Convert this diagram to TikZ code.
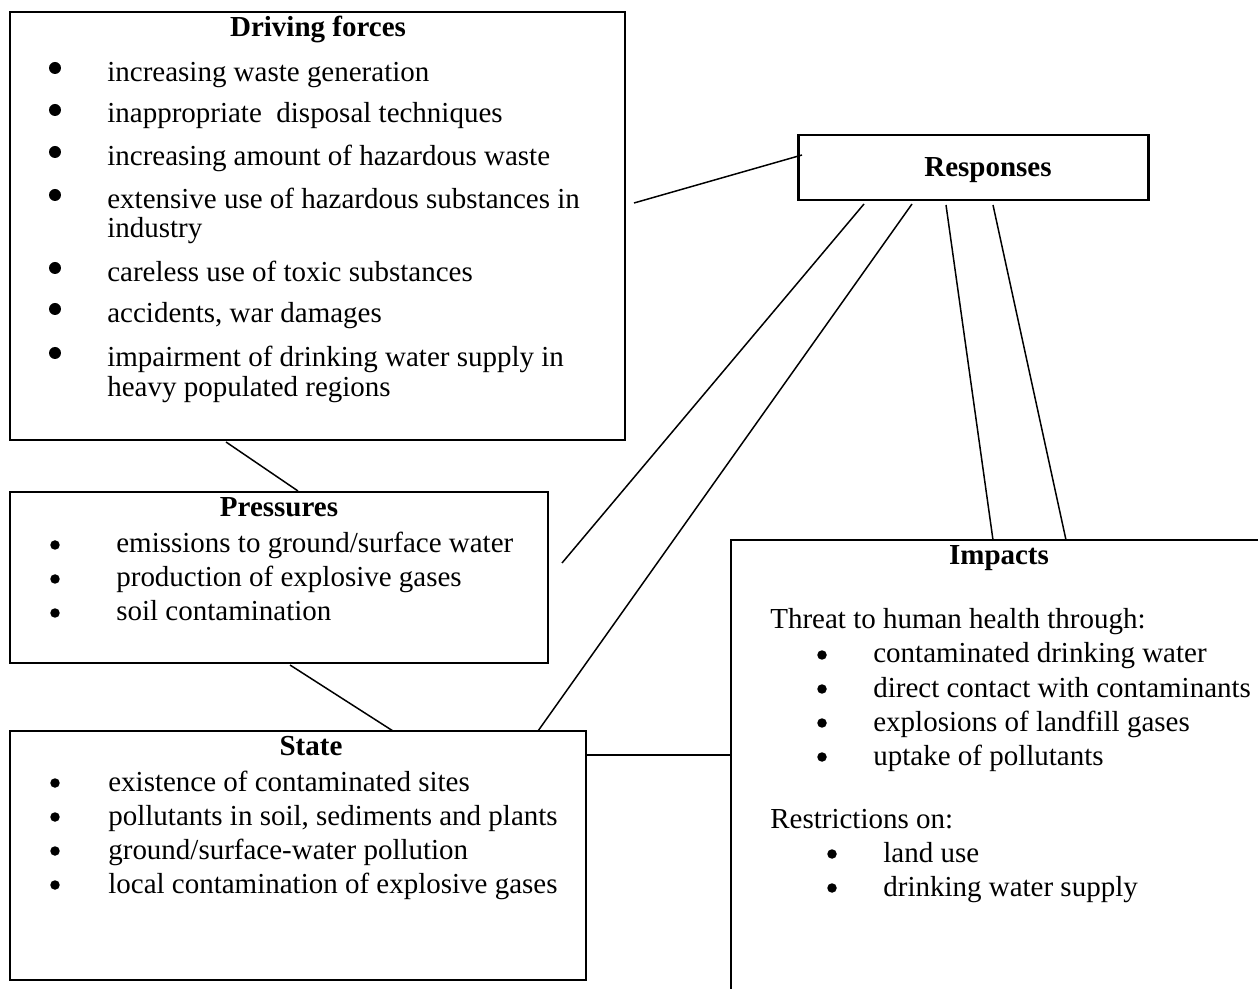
\documentclass[tikz,border=0pt]{standalone}
\usepackage{fontspec}
\setmainfont{Liberation Serif}

\tikzset{
  txt/.style={anchor=base west, inner sep=0pt, font=\fontsize{16.5}{19}\selectfont},
  ttl/.style={anchor=base, inner sep=0pt, font=\fontsize{16.5}{19}\selectfont\bfseries},
  dot/.style={circle, fill=black, inner sep=0pt, minimum size=0.19cm},
  bigdot/.style={circle, fill=black, inner sep=0pt, minimum size=0.24cm},
  link/.style={line width=0.85pt},
}

\begin{document}
\begin{tikzpicture}[x=0.02cm, y=-0.02cm]
\useasboundingbox (0,0) rectangle (1258,989);
\clip (0,0) rectangle (1258,989);

\draw[line width=1.1pt] (10,12) rectangle (625,440);
\node[ttl] (dfTitle) at (318,37) {Driving forces};
\node[bigdot] (dfB1) at (55,68) {};
\node[txt] (df1) at (107,82) {increasing waste generation};
\node[bigdot] (dfB2) at (55,110) {};
\node[txt] (df2) at (107,123) {inappropriate\ \ disposal techniques};
\node[bigdot] (dfB3) at (55,152) {};
\node[txt] (df3) at (107,166) {increasing amount of hazardous waste};
\node[bigdot] (dfB4) at (55,195) {};
\node[txt] (df4) at (107,209) {extensive use of hazardous substances in};
\node[txt] (df4b) at (107,238) {industry};
\node[bigdot] (dfB5) at (55,268) {};
\node[txt] (df5) at (107,282) {careless use of toxic substances};
\node[bigdot] (dfB6) at (55,309) {};
\node[txt] (df6) at (107,323) {accidents, war damages};
\node[bigdot] (dfB7) at (55,353) {};
\node[txt] (df7) at (107,367) {impairment of drinking water supply in};
\node[txt] (df7b) at (107,397) {heavy populated regions};

\draw[line width=1.7pt] (798,135) rectangle (1148,200);
\node[ttl] (resp) at (988,177) {Responses};

\draw[line width=0.85pt] (10,492) rectangle (548,663);
\node[ttl] (prTitle) at (279,517) {Pressures};
\node[dot] (prB1) at (55,545) {};
\node[txt] (pr1) at (116,553) {emissions to ground/surface water};
\node[dot] (prB2) at (55,579) {};
\node[txt] (pr2) at (116,587) {production of explosive gases};
\node[dot] (prB3) at (55,613) {};
\node[txt] (pr3) at (116,621) {soil contamination};

\draw[line width=0.85pt] (10,731) rectangle (586,980);
\node[ttl] (stTitle) at (311,755) {State};
\node[dot] (stB1) at (55,783) {};
\node[txt] (st1) at (108,791) {existence of contaminated sites};
\node[dot] (stB2) at (55,817) {};
\node[txt] (st2) at (108,825) {pollutants in soil, sediments and plants};
\node[dot] (stB3) at (55,851) {};
\node[txt] (st3) at (108,859) {ground/surface-water pollution};
\node[dot] (stB4) at (55,885) {};
\node[txt] (st4) at (108,893) {local contamination of explosive gases};

\draw[line width=0.85pt] (1300,540) -- (731,540) -- (731,1020);
\node[ttl] (imTitle) at (999,565) {Impacts};
\node[txt] (imHead1) at (770,628) {Threat to human health through:};
\node[dot] (imB1) at (822,655) {};
\node[txt] (im1) at (873,663) {contaminated drinking water};
\node[dot] (imB2) at (822,689) {};
\node[txt] (im2) at (873,697) {direct contact with contaminants};
\node[dot] (imB3) at (822,723) {};
\node[txt] (im3) at (873,731) {explosions of landfill gases};
\node[dot] (imB4) at (822,757) {};
\node[txt] (im4) at (873,765) {uptake\ of pollutants};
\node[txt] (imHead2) at (770,828) {Restrictions on:};
\node[dot] (imB5) at (832,854) {};
\node[txt] (im5) at (883,862) {land use};
\node[dot] (imB6) at (832,888) {};
\node[txt] (im6) at (883,896) {drinking water supply};

\coordinate (dfToResp) at (634,203);
\coordinate (respToDf) at (802,155);
\coordinate (dfToPr) at (226,442);
\coordinate (prToDf) at (298,491);
\coordinate (prToSt) at (290,665);
\coordinate (stToPr) at (393,731);
\coordinate (respToPr) at (864,204);
\coordinate (prToResp) at (562,563);
\coordinate (respToSt) at (912,204);
\coordinate (stToResp) at (538,731);
\coordinate (respToImA) at (946,205);
\coordinate (imToRespA) at (993,540);
\coordinate (respToImB) at (993,205);
\coordinate (imToRespB) at (1066,540);
\coordinate (stToIm) at (586,755);
\coordinate (imToSt) at (731,755);

\draw[link] (dfToResp) -- (respToDf);
\draw[link] (dfToPr) -- (prToDf);
\draw[link] (prToSt) -- (stToPr);
\draw[link] (respToPr) -- (prToResp);
\draw[link] (respToSt) -- (stToResp);
\draw[link] (respToImA) -- (imToRespA);
\draw[link] (respToImB) -- (imToRespB);
\draw[link] (stToIm) -- (imToSt);

\end{tikzpicture}
\end{document}
